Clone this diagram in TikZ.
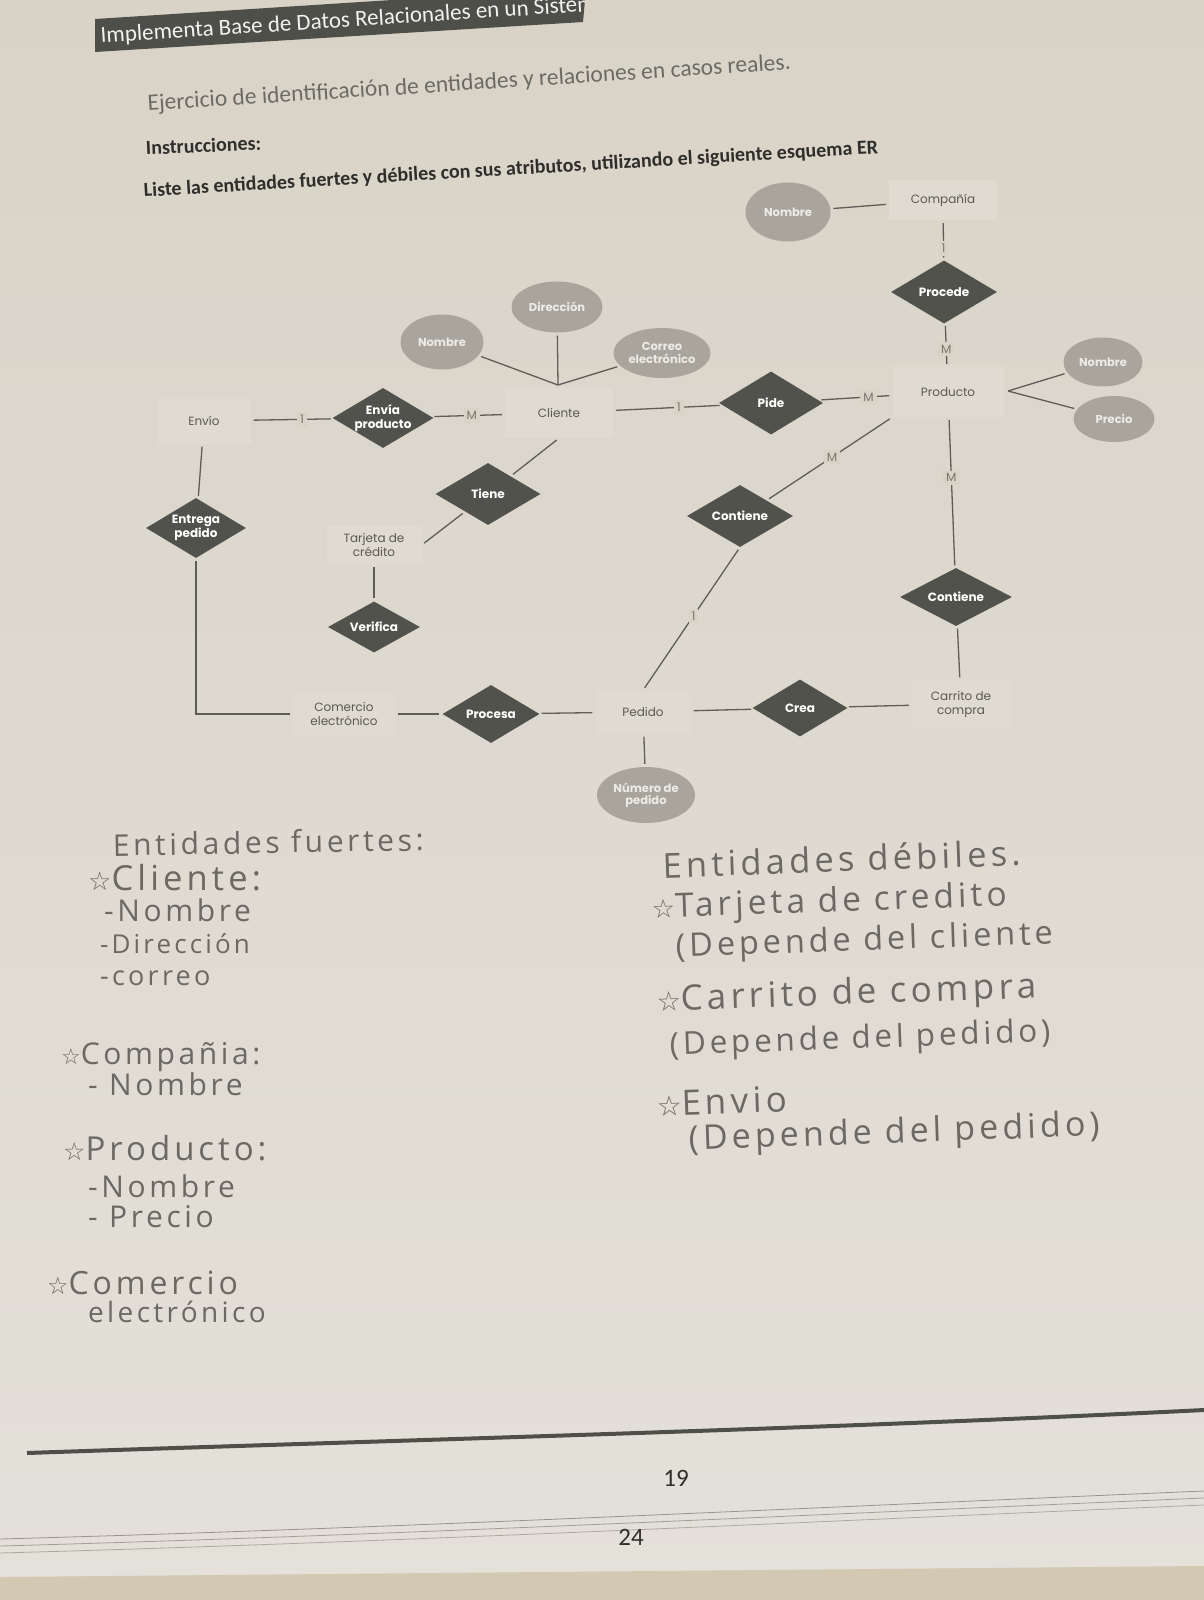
\documentclass[tikz,border=0pt]{standalone}
\usepackage{fontspec}
\setmainfont{Carlito}
\newfontfamily\diag{Poppins}
\newfontfamily\hand[LetterSpace=12]{Open Sans}
\newfontfamily\sym{DejaVu Sans}
\usetikzlibrary{shapes.geometric}
\definecolor{paperA}{HTML}{D9D3C7}
\definecolor{paperB}{HTML}{E4E1DA}
\definecolor{tablecol}{HTML}{D3C8B1}
\definecolor{barcol}{HTML}{4F4F49}
\definecolor{entfill}{HTML}{E0DBD1}
\definecolor{enttext}{HTML}{5A5955}
\definecolor{relfill}{HTML}{52524D}
\definecolor{attrfill}{HTML}{A9A59D}
\definecolor{attrtext}{HTML}{EDEBE6}
\definecolor{linecol}{HTML}{5E5D58}
\definecolor{cardcol}{HTML}{77766F}
\definecolor{handcol}{HTML}{6C6863}
\definecolor{titlegray}{HTML}{6B6B65}
\definecolor{boldcol}{HTML}{2E2E2B}
\newcommand\hstar[1][22]{{\sym\fontsize{#1}{#1}\selectfont ☆}}
\newcommand\hsz[1]{\fontsize{#1}{#1}\selectfont}
\tikzset{
  ent/.style={rectangle, fill=entfill, text=enttext, font=\diag\fontsize{12}{14}\selectfont, align=center, inner sep=0pt},
  rel/.style={diamond, fill=relfill, inner sep=0pt},
  reltxt/.style={font=\diag\bfseries\fontsize{12}{13.5}\selectfont, text=white, align=center},
  attr/.style={ellipse, fill=attrfill, inner sep=0pt},
  attrtxt/.style={font=\diag\bfseries\fontsize{11.5}{12.5}\selectfont, text=attrtext, align=center},
  conn/.style={draw=linecol, line width=1.3pt, shorten <=3pt, shorten >=3pt},
  card/.style={fill=paperA, inner sep=3pt, font=\diag\fontsize{12}{12}\selectfont, text=cardcol},
  hw/.style={font=\hand\fontsize{30}{30}\selectfont, text=handcol, anchor=base west, inner sep=0pt},
  hwr/.style={hw, rotate=2},
}
\begin{document}
\begin{tikzpicture}[x=1pt,y=-1pt]
\useasboundingbox (0,0) rectangle (1204,1600);
\begin{scope}
\clip (0,0) rectangle (1204,1600);
% paper
\shade[top color=paperA, bottom color=paperB] (0,0) rectangle (1204,1600);
\fill[tablecol] (0,1577) -- (1204,1566) -- (1204,1600) -- (0,1600) -- cycle;
% header bar
\begin{scope}
\fill[barcol] (95,19) -- (392,0) -- (585,0) -- (583,22) -- (95,52) -- cycle;
\clip (95,19) -- (392,0) -- (585,0) -- (583,22) -- (95,52) -- cycle;
\node[anchor=base west, inner sep=0pt, rotate=3.7, text=white!92!barcol, font=\fontsize{23}{23}\selectfont] (hdr) at (101,43) {Implementa Base de Datos Relacionales en un Sistema};
\end{scope}
% titles
\node[anchor=base west, inner sep=0pt, rotate=3.7, text=titlegray, font=\fontsize{23.5}{23.5}\selectfont] (t1) at (148,111) {Ejercicio de identificación de entidades y relaciones en casos reales.};
\node[anchor=base west, inner sep=0pt, rotate=2.5, text=boldcol, font=\bfseries\fontsize{20}{20}\selectfont] (t2) at (146,155) {Instrucciones:};
\node[anchor=base west, inner sep=0pt, rotate=3.4, text=boldcol, font=\bfseries\fontsize{20}{20}\selectfont] (t3) at (144,197) {Liste las entidades fuertes y débiles con sus atributos, utilizando el siguiente esquema ER};

% ---------- ER diagram ----------
% entities
\node[ent, minimum width=108pt, minimum height=40pt] (compania) at (943,200) {Compañía};
\node[ent, minimum width=111pt, minimum height=50pt] (producto) at (948,392) {Producto};
\node[ent, minimum width=108pt, minimum height=50pt] (cliente) at (559,413) {Cliente};
\node[ent, minimum width=93pt, minimum height=45pt] (envio) at (204,421) {Envío};
\node[ent, minimum width=95pt, minimum height=38pt] (tarjeta) at (374,545) {Tarjeta de\\crédito};
\node[ent, minimum width=102pt, minimum height=43pt] (comercio) at (344,714) {Comercio\\electrónico};
\node[ent, minimum width=95pt, minimum height=43pt] (pedido) at (643,712) {Pedido};
\node[ent, minimum width=98pt, minimum height=47pt] (carrito) at (961,704) {Carrito de\\compra};
% relationships
\node[rel, minimum width=106pt, minimum height=63pt, label={[reltxt]center:Procede}] (procede) at (944,292) {};
\node[rel, minimum width=104pt, minimum height=63pt, label={[reltxt]center:Pide}] (pide) at (771,403) {};
\node[rel, minimum width=101pt, minimum height=60pt, label={[reltxt]center:{Envía\\producto}}] (envia) at (383,418) {};
\node[rel, minimum width=105pt, minimum height=62pt, label={[reltxt]center:Tiene}] (tiene) at (488,494) {};
\node[rel, minimum width=106pt, minimum height=62pt, label={[reltxt]center:Contiene}] (contL) at (740,516) {};
\node[rel, minimum width=112pt, minimum height=58pt, label={[reltxt]center:Contiene}] (contR) at (956,597) {};
\node[rel, minimum width=100pt, minimum height=60pt, label={[reltxt]center:{Entrega\\pedido}}] (entrega) at (196,528) {};
\node[rel, minimum width=92pt, minimum height=51pt, label={[reltxt]center:Verifica}] (verifica) at (374,627) {};
\node[rel, minimum width=97pt, minimum height=58pt, label={[reltxt]center:Procesa}] (procesa) at (491,714) {};
\node[rel, minimum width=95pt, minimum height=57pt, label={[reltxt]center:Crea}] (crea) at (800,708) {};
% attributes
\node[attr, minimum width=85pt, minimum height=59pt, label={[attrtxt]center:Nombre}] (nomC) at (788,212) {};
\node[attr, minimum width=91pt, minimum height=51pt, label={[attrtxt]center:Dirección}] (dir) at (557,307) {};
\node[attr, minimum width=83pt, minimum height=55pt, label={[attrtxt]center:Nombre}] (nomCl) at (442,342) {};
\node[attr, minimum width=97pt, minimum height=50pt, label={[attrtxt]center:{Correo\\electrónico}}] (correo) at (662,353) {};
\node[attr, minimum width=79pt, minimum height=49pt, label={[attrtxt]center:Nombre}] (nomP) at (1103,362) {};
\node[attr, minimum width=81pt, minimum height=46pt, label={[attrtxt]center:Precio}] (precio) at (1114,419) {};
\node[attr, minimum width=98pt, minimum height=56pt, label={[attrtxt]center:{Número de\\pedido}}] (numped) at (646,795) {};
% junctions
\coordinate (cj) at (558,385);
\coordinate (pj) at (1008,391);

% connectors
\draw[conn] (nomC) -- (compania);
\draw[conn] (compania) -- node[card, pos=0.7] {1} (procede);
\draw[conn] (procede) -- node[card, pos=0.6] {M} (producto);
\draw[conn, shorten >=0pt] (nomP) -- (pj);
\draw[conn, shorten >=0pt] (precio) -- (pj);
\draw[conn] (pide) -- node[card, pos=0.68] {M} (producto);
\draw[conn] (cliente) -- node[card, pos=0.6] {1} (pide);
\draw[conn, shorten >=0pt] (nomCl) -- (cj);
\draw[conn, shorten >=0pt] (dir) -- (cj);
\draw[conn, shorten >=0pt] (correo) -- (cj);
\draw[conn] (envia) -- node[card, pos=0.55] {M} (cliente);
\draw[conn] (envio) -- node[card, pos=0.62] {1} (envia);
\draw[conn] (envio) -- (entrega);
\draw[conn] (entrega.south) |- (comercio.west);
\draw[conn] (cliente.south) -- (tiene);
\draw[conn] (tiene) -- (tarjeta.east);
\draw[conn] (tarjeta) -- (verifica);
\draw[conn] (comercio) -- (procesa);
\draw[conn] (procesa) -- (pedido);
\draw[conn] (pedido) -- (crea);
\draw[conn] (crea) -- (carrito);
\draw[conn] (pedido) -- (numped);
\draw[conn] (producto.south west) -- node[card, pos=0.48] {M} (contL.north east);
\draw[conn] (contL.south) -- node[card, pos=0.48] {1} (pedido.north);
\draw[conn] (producto) -- node[card, pos=0.4] {M} (contR);
\draw[conn] (contR) -- (carrito);

% ---------- handwriting: left ----------
\node[hw, rotate=1] (hA) at (113,856) {Entidades fuertes:};
\node[hw, font=\hand\hsz{34.5}] (hB) at (88,890) {\hstar[26]Cliente:};
\node[hw] (hC) at (104,921) {-Nombre};
\node[hw, font=\hand\hsz{26}] (hD) at (100,953) {-Dirección};
\node[hw, font=\hand\hsz{27}] (hE) at (100,985) {-correo};
\node[hw] (hF) at (61,1064) {\hstar Compañia:};
\node[hw] (hG) at (88,1095) {- Nombre};
\node[hw, font=\hand\hsz{33}] (hH) at (63,1160) {\hstar[25]Producto:};
\node[hw] (hI) at (88,1197) {-Nombre};
\node[hw] (hJ) at (88,1227) {- Precio};
\node[hw, font=\hand\hsz{32}] (hK) at (47,1294) {\hstar[24]Comercio};
\node[hw, font=\hand\hsz{28}] (hL) at (88,1322) {electrónico};
% ---------- handwriting: right ----------
\node[hwr, font=\hand\hsz{34.5}] (hM) at (663,878) {Entidades débiles.};
\node[hwr, font=\hand\hsz{33.5}] (hN) at (652,918) {\hstar[26]Tarjeta de credito};
\node[hwr, font=\hand\hsz{32.5}] (hO) at (676,957) {(Depende del cliente};
\node[hwr, font=\hand\hsz{35}] (hP) at (657,1011) {\hstar[27]Carrito de compra};
\node[hwr, font=\hand\hsz{31.5}] (hQ) at (670,1055) {(Depende del pedido)};
\node[hwr, font=\hand\hsz{35}] (hR) at (657,1116) {\hstar[28]Envio};
\node[hwr, font=\hand\hsz{34}] (hS) at (689,1150) {(Depende del pedido)};

% ---------- bottom ----------
\draw[line width=4pt, color=barcol] (27,1453) .. controls (400,1440) and (800,1430) .. (1204,1410);
\node[inner sep=0pt, text=boldcol, font=\fontsize{25}{25}\selectfont] (p19) at (676,1478) {19};
\draw[color=black!30!paperA, line width=0.8pt] (0,1539) .. controls (400,1528) and (800,1508) .. (1204,1491);
\draw[color=black!25!paperA, line width=0.8pt] (0,1546) .. controls (400,1535) and (800,1515) .. (1204,1498);
\draw[color=black!20!paperA, line width=0.8pt] (0,1553) .. controls (400,1542) and (800,1522) .. (1204,1505);
\node[inner sep=0pt, text=boldcol, font=\fontsize{25}{25}\selectfont] (p24) at (631,1537) {24};
\end{scope}
\end{tikzpicture}
\end{document}
